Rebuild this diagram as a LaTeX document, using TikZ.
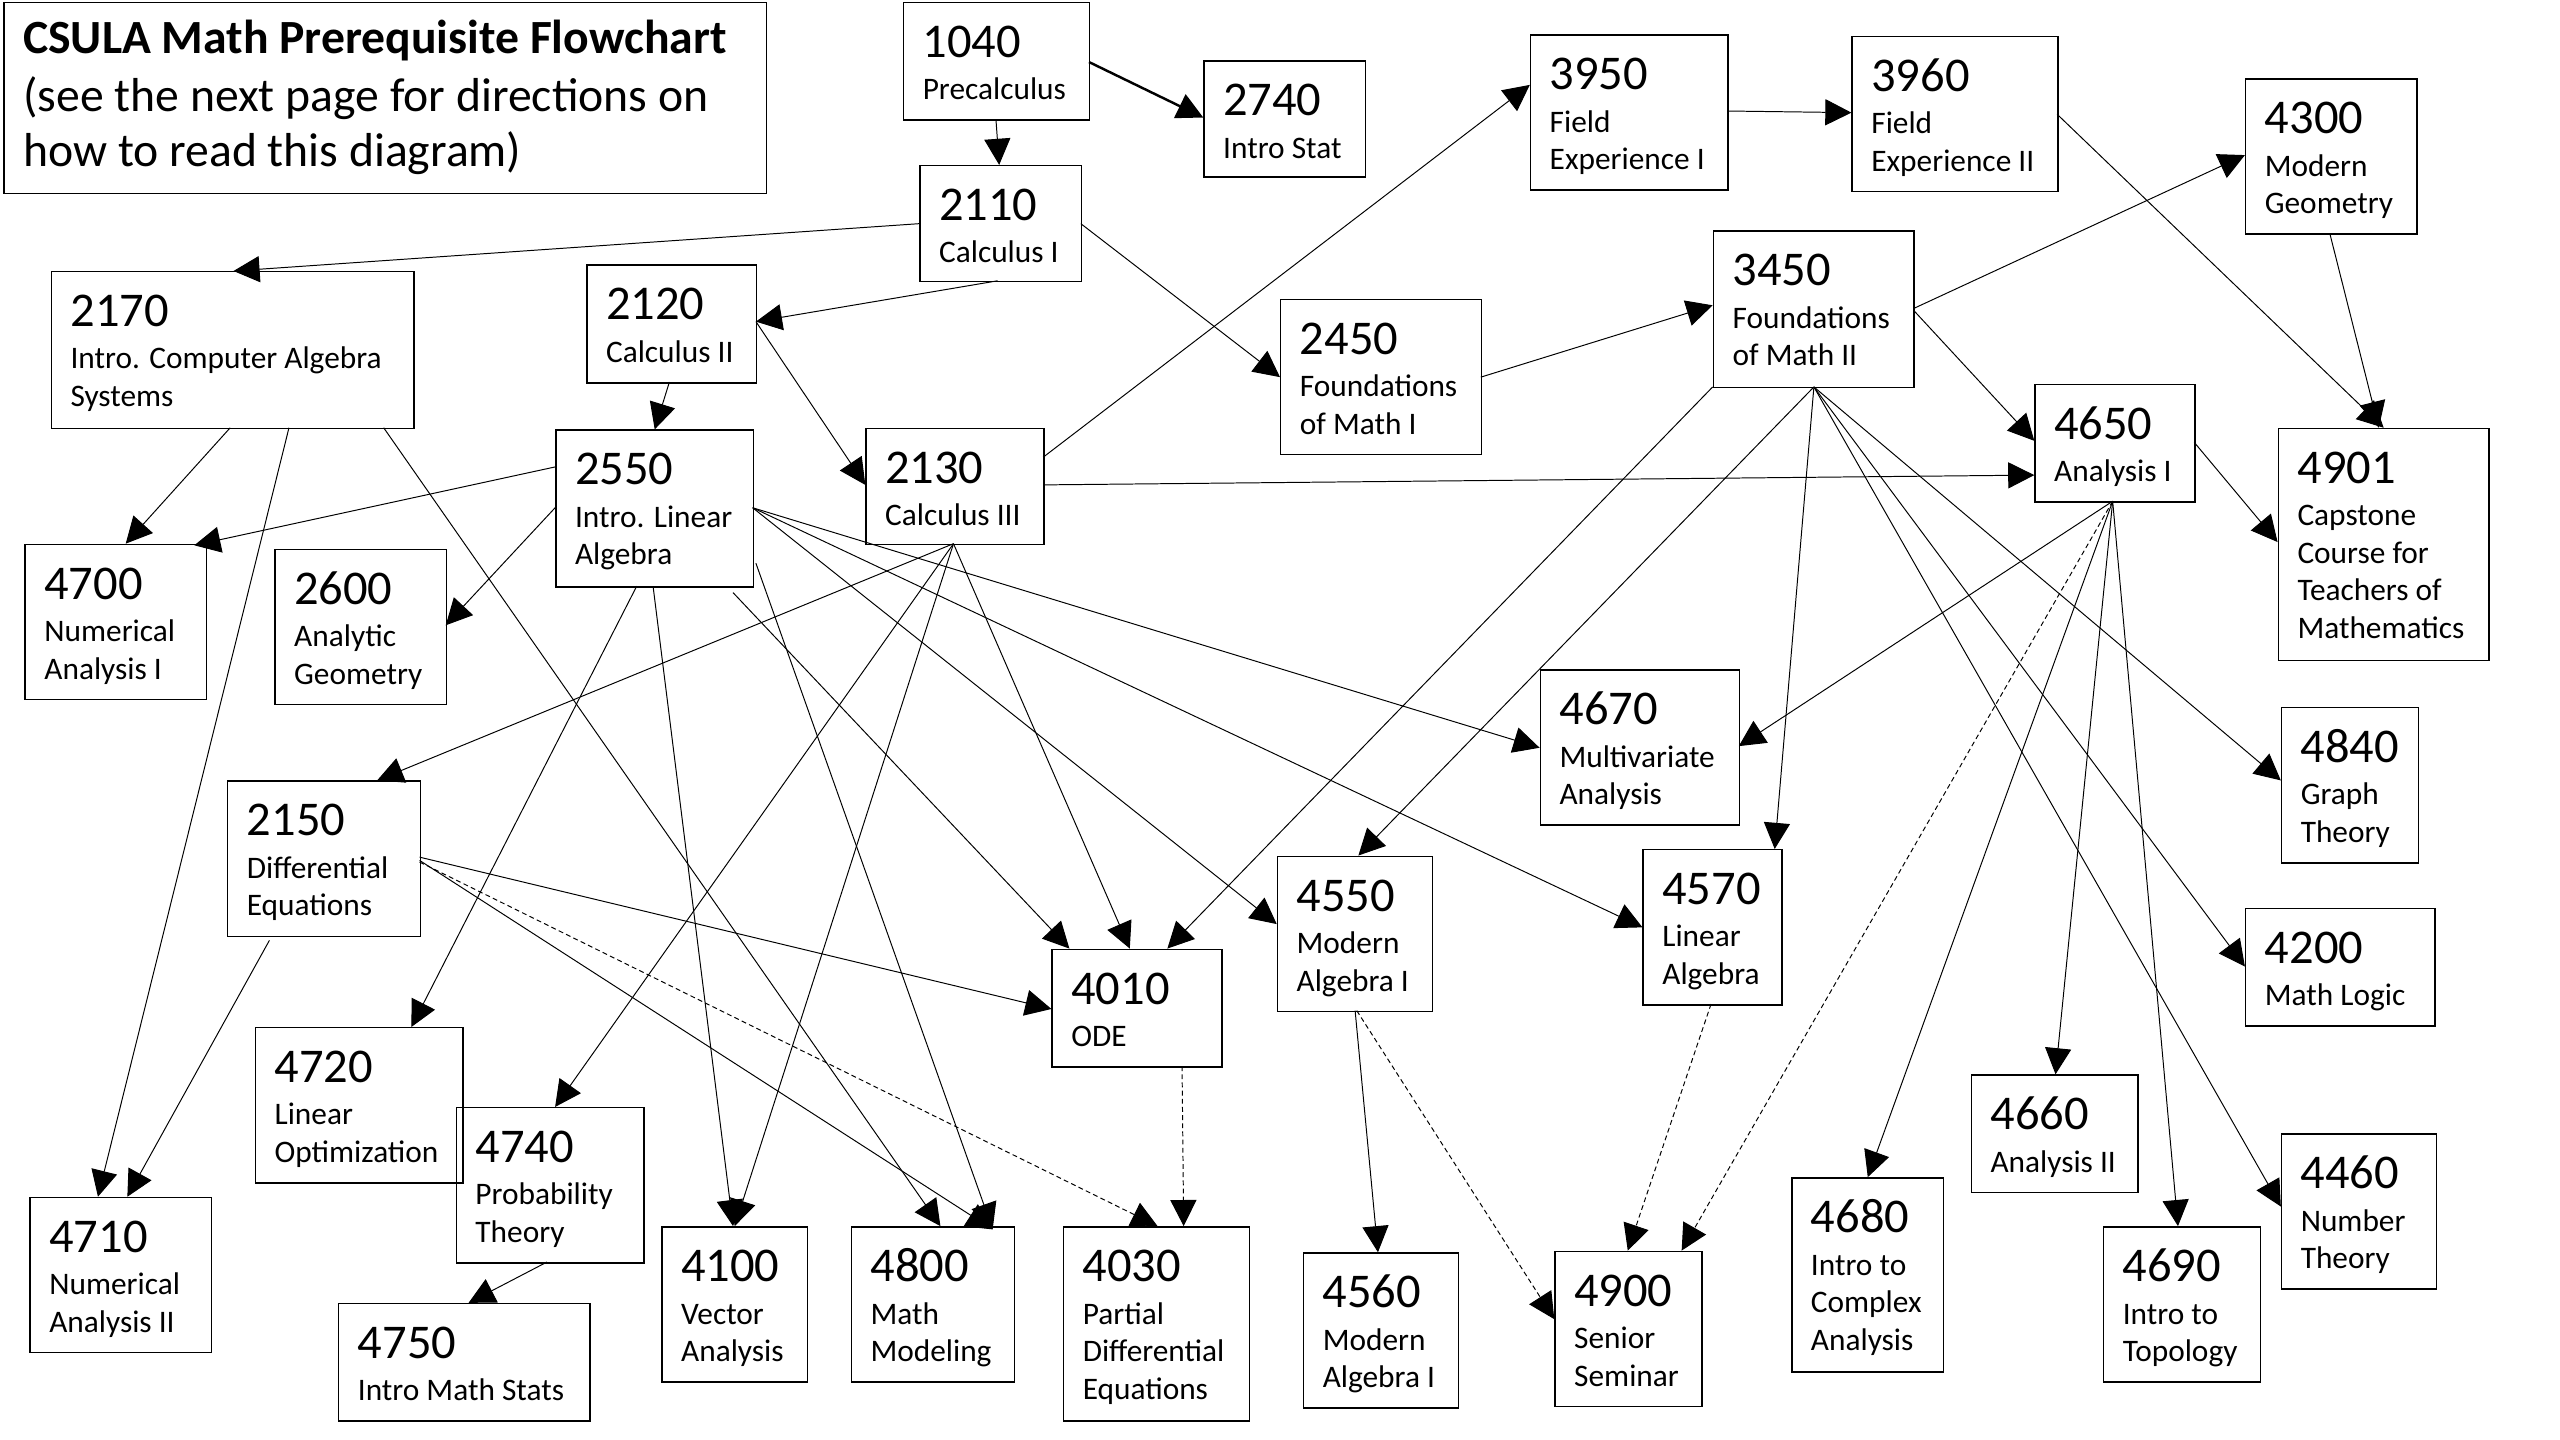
\documentclass[tikz,border=0pt]{standalone}
\usepackage{fontspec}
\setmainfont{Carlito}
\usetikzlibrary{arrows.meta}
\newcommand\lns[1]{\vtop{\baselineskip=23pt\lineskiplimit=-30pt\lineskip=0pt\halign{##\hfil\cr#1\crcr}}}
\tikzset{
  box/.style={draw, line width=0.9pt, anchor=north west, inner sep=0pt},
  numtxt/.style={font=\fontsize{29.7}{30}\selectfont, anchor=base west, inner sep=0pt},
  desctxt/.style={font=\fontsize{19.2}{23}\selectfont, anchor=base west, inner sep=0pt},
  titletxt/.style={font=\fontsize{29.2}{32}\selectfont, anchor=base west, inner sep=0pt},
  conn/.style={-{Triangle[length=16pt,width=16pt]}, line width=0.6pt},
  dconn/.style={conn, dash pattern=on 3pt off 2pt},
}
\newcommand\course[7]{%
  \node[box, minimum width=#4pt, minimum height=#5pt] (#1) at (#2,#3) {};
  \node[numtxt] (#1n) at ([shift={(12,34)}]#1.north west) {#6};
  \node[desctxt] (#1d) at ([shift={(12,60)}]#1.north west) {\lns{#7}};
}
\begin{document}
\begin{tikzpicture}[x=1pt,y=-1pt]
\fill[white] (0,0) rectangle (1568,882);
\useasboundingbox (0,0) rectangle (1568,882);
% title
\node[box, minimum width=467pt, minimum height=117pt] (title) at (2,1) {};
\node[titletxt, font=\fontsize{29.2}{32}\selectfont\bfseries] (t1) at ([shift={(12,32)}]title.north west) {CSULA Math Prerequisite Flowchart};
\node[titletxt] (t2) at ([shift={(12,67)}]title.north west) {(see the next page for directions on};
\node[titletxt] (t3) at ([shift={(12,101)}]title.north west) {how to read this diagram)};
% courses
\course{n1040}{553}{1}{114}{72}{1040}{Precalculus}
\course{n2740}{737}{37}{99}{71}{2740}{Intro Stat}
\course{n2110}{563}{101}{99}{71}{2110}{Calculus I}
\course{n2170}{31}{166}{222}{96}{2170}{Intro. Computer Algebra\cr Systems}
\course{n2120}{359}{162}{104}{72}{2120}{Calculus II}
\course{n2550}{340}{263}{121}{96}{2550}{Intro. Linear\cr Algebra}
\course{n2130}{530}{262}{109}{71}{2130}{Calculus III}
\course{n2450}{784}{183}{123}{95}{2450}{Foundations\cr of Math I}
\course{n3950}{937}{21}{121}{95}{3950}{Field\cr Experience I}
\course{n3960}{1134}{22}{126}{95}{3960}{Field\cr Experience II}
\course{n4300}{1375}{48}{105}{95}{4300}{Modern\cr Geometry}
\course{n3450}{1049}{141}{123}{96}{3450}{Foundations\cr of Math II}
\course{n4650}{1246}{235}{98}{72}{4650}{Analysis I}
\course{n4901}{1395}{262}{129}{142}{4901}{Capstone\cr Course for\cr Teachers of\cr Mathematics}
\course{n4700}{15}{333}{111}{95}{4700}{Numerical\cr Analysis I}
\course{n2600}{168}{336}{105}{95}{2600}{Analytic\cr Geometry}
\course{n4670}{943}{410}{122}{95}{4670}{Multivariate\cr Analysis}
\course{n4840}{1397}{433}{84}{95}{4840}{Graph\cr Theory}
\course{n2150}{139}{478}{118}{95}{2150}{Differential\cr Equations}
\course{n4010}{644}{581}{104}{72}{4010}{ODE}
\course{n4550}{782}{524}{95}{95}{4550}{Modern\cr Algebra I}
\course{n4570}{1006}{520}{85}{95}{4570}{Linear\cr Algebra}
\course{n4200}{1375}{556}{116}{72}{4200}{Math Logic}
\course{n4720}{156}{629}{127}{95}{4720}{Linear\cr Optimization}
\course{n4740}{279}{678}{115}{95}{4740}{Probability\cr Theory}
\course{n4660}{1207}{658}{102}{72}{4660}{Analysis II}
\course{n4460}{1397}{694}{95}{95}{4460}{Number\cr Theory}
\course{n4710}{18}{733}{111}{95}{4710}{Numerical\cr Analysis II}
\course{n4750}{207}{798}{154}{72}{4750}{Intro Math Stats}
\course{n4100}{405}{751}{89}{95}{4100}{Vector\cr Analysis}
\course{n4800}{521}{751}{100}{95}{4800}{Math\cr Modeling}
\course{n4030}{651}{751}{114}{119}{4030}{Partial\cr Differential\cr Equations}
\course{n4560}{798}{767}{95}{95}{4560}{Modern\cr Algebra I}
\course{n4900}{952}{766}{90}{95}{4900}{Senior\cr Seminar}
\course{n4680}{1097}{721}{93}{119}{4680}{Intro to\cr Complex\cr Analysis}
\course{n4690}{1288}{751}{96}{95}{4690}{Intro to\cr Topology}
% connectors
\draw[conn, line width=1.5pt] ([shift={(114,37)}]n1040.north west) -- ([shift={(0,35)}]n2740.north west);
\draw[conn] ([shift={(57,72)}]n1040.north west) -- ([shift={(49,0)}]n2110.north west);
\draw[conn] ([shift={(0,36)}]n2110.north west) -- ([shift={(112,0)}]n2170.north west);
\draw[conn] ([shift={(48,71)}]n2110.north west) -- ([shift={(104,35)}]n2120.north west);
\draw[conn] ([shift={(99,36)}]n2110.north west) -- ([shift={(0,48)}]n2450.north west);
\draw[conn] ([shift={(51,72)}]n2120.north west) -- ([shift={(61,0)}]n2550.north west);
\draw[conn] ([shift={(104,35)}]n2120.north west) -- ([shift={(0,35)}]n2130.north west);
\draw[conn] ([shift={(109,18)}]n2130.north west) -- ([shift={(0,31)}]n3950.north west);
\draw[conn] ([shift={(109,35)}]n2130.north west) -- ([shift={(0,56)}]n4650.north west);
\draw[conn] ([shift={(123,48)}]n2450.north west) -- ([shift={(0,46)}]n3450.north west);
\draw[conn] ([shift={(121,47)}]n3950.north west) -- ([shift={(0,47)}]n3960.north west);
\draw[conn] ([shift={(126,48)}]n3960.north west) -- ([shift={(65,0)}]n4901.north west);
\draw[conn] ([shift={(52,95)}]n4300.north west) -- ([shift={(62,0)}]n4901.north west);
\draw[conn] ([shift={(123,48)}]n3450.north west) -- ([shift={(0,47)}]n4300.north west);
\draw[conn] ([shift={(123,49)}]n3450.north west) -- ([shift={(0,35)}]n4650.north west);
\draw[conn] ([shift={(98,36)}]n4650.north west) -- ([shift={(0,70)}]n4901.north west);
\draw[conn] ([shift={(110,96)}]n2170.north west) -- ([shift={(62,0)}]n4700.north west);
\draw[conn] ([shift={(0,23)}]n2550.north west) -- ([shift={(104,1)}]n4700.north west);
\draw[conn] ([shift={(0,48)}]n2550.north west) -- ([shift={(105,47)}]n2600.north west);
\draw[conn] ([shift={(146,96)}]n2170.north west) -- ([shift={(42,0)}]n4710.north west);
\draw[conn] ([shift={(204,96)}]n2170.north west) -- ([shift={(55,0)}]n4800.north west);
\draw[conn] ([shift={(50,96)}]n2550.north west) -- ([shift={(96,0)}]n4720.north west);
\draw[conn] ([shift={(60,96)}]n2550.north west) -- ([shift={(44,0)}]n4100.north west);
\draw[conn] ([shift={(123,82)}]n2550.north west) -- ([shift={(87,2)}]n4800.north west);
\draw[conn] ([shift={(109,100)}]n2550.north west) -- ([shift={(11,0)}]n4010.north west);
\draw[conn] ([shift={(121,48)}]n2550.north west) -- ([shift={(0,48)}]n4670.north west);
\draw[conn] ([shift={(121,48)}]n2550.north west) -- ([shift={(0,48)}]n4570.north west);
\draw[conn] ([shift={(121,48)}]n2550.north west) -- ([shift={(0,42)}]n4550.north west);
\draw[conn] ([shift={(54,71)}]n2130.north west) -- ([shift={(92,0)}]n2150.north west);
\draw[conn] ([shift={(54,71)}]n2130.north west) -- ([shift={(61,0)}]n4740.north west);
\draw[conn] ([shift={(54,71)}]n2130.north west) -- ([shift={(45,0)}]n4100.north west);
\draw[conn] ([shift={(54,71)}]n2130.north west) -- ([shift={(48,0)}]n4010.north west);
\draw[conn] ([shift={(0,96)}]n3450.north west) -- ([shift={(71,0)}]n4010.north west);
\draw[conn] ([shift={(62,96)}]n3450.north west) -- ([shift={(50,0)}]n4550.north west);
\draw[conn] ([shift={(62,96)}]n3450.north west) -- ([shift={(81,0)}]n4570.north west);
\draw[conn] ([shift={(62,96)}]n3450.north west) -- ([shift={(0,45)}]n4840.north west);
\draw[conn] ([shift={(62,96)}]n3450.north west) -- ([shift={(0,36)}]n4200.north west);
\draw[conn] ([shift={(62,96)}]n3450.north west) -- ([shift={(0,45)}]n4460.north west);
\draw[conn] ([shift={(48,72)}]n4650.north west) -- ([shift={(122,47)}]n4670.north west);
\draw[dconn] ([shift={(48,72)}]n4650.north west) -- ([shift={(78,0)}]n4900.north west);
\draw[conn] ([shift={(48,72)}]n4650.north west) -- ([shift={(47,0)}]n4680.north west);
\draw[conn] ([shift={(48,72)}]n4650.north west) -- ([shift={(52,0)}]n4660.north west);
\draw[conn] ([shift={(48,72)}]n4650.north west) -- ([shift={(46,0)}]n4690.north west);
\draw[conn] ([shift={(26,98)}]n2150.north west) -- ([shift={(60,0)}]n4710.north west);
\draw[conn] ([shift={(56,95)}]n4740.north west) -- ([shift={(80,0)}]n4750.north west);
\draw[conn] ([shift={(118,47)}]n2150.north west) -- ([shift={(0,37)}]n4010.north west);
\draw[conn] ([shift={(118,49)}]n2150.north west) -- ([shift={(87,2)}]n4800.north west);
\draw[dconn] ([shift={(118,50)}]n2150.north west) -- ([shift={(58,0)}]n4030.north west);
\draw[dconn] ([shift={(80,72)}]n4010.north west) -- ([shift={(74,0)}]n4030.north west);
\draw[conn] ([shift={(48,95)}]n4550.north west) -- ([shift={(46,0)}]n4560.north west);
\draw[dconn] ([shift={(49,95)}]n4550.north west) -- ([shift={(0,42)}]n4900.north west);
\draw[dconn] ([shift={(42,95)}]n4570.north west) -- ([shift={(45,0)}]n4900.north west);
\end{tikzpicture}
\end{document}
